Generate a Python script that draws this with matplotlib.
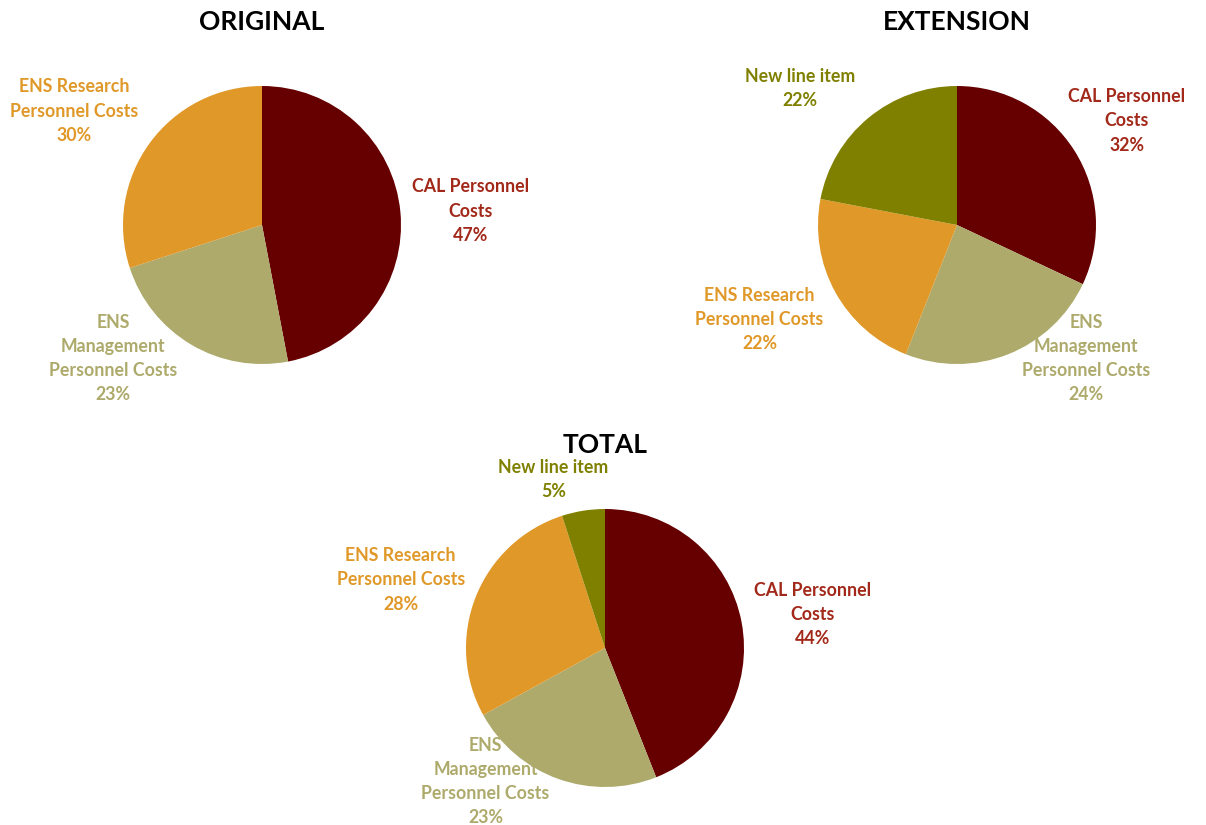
import matplotlib
matplotlib.use("Agg")
import matplotlib.pyplot as plt

plt.rcParams['font.family'] = ['Lato', 'DejaVu Sans']

# budget shares (%) per funding period, slices run clockwise from 12 o'clock
original_labels = ['CAL Personnel\nCosts', 'ENS\nManagement\nPersonnel Costs',
                   'ENS Research\nPersonnel Costs']
original_values = [47, 23, 30]

extension_labels = ['CAL Personnel\nCosts', 'ENS\nManagement\nPersonnel Costs',
                    'ENS Research\nPersonnel Costs', 'New line item']
extension_values = [32, 24, 22, 22]

total_labels = ['CAL Personnel\nCosts', 'ENS\nManagement\nPersonnel Costs',
                'ENS Research\nPersonnel Costs', 'New line item']
total_values = [44, 23, 28, 5]

slice_colors = ['#660000', '#ADAA6C', '#E09828', '#808000']
text_colors = ['#A2291A', '#ADAA6C', '#E09828', '#808000']

W, H = 1206, 825
R = 139  # pie radius in pixels

fig = plt.figure(figsize=(W / 100, H / 100), dpi=100)


def draw_pie(cx, cy, title, title_y, labels, values, label_pos):
    ax = fig.add_axes([(cx - R) / W, 1 - (cy + R) / H, 2 * R / W, 2 * R / H])
    ax.pie(values, colors=slice_colors[:len(values)], startangle=90,
           counterclock=False, radius=1.0,
           wedgeprops=dict(linewidth=0))
    ax.set_xlim(-1, 1)
    ax.set_ylim(-1, 1)
    ax.set_aspect('equal')
    ax.axis('off')
    for i, (lab, val) in enumerate(zip(labels, values)):
        x, y = label_pos[i]
        ax.text(x, y, f"{lab}\n{val}%", ha='center', va='center',
                color=text_colors[i], fontsize=12.8, fontweight='bold',
                linespacing=1.52, clip_on=False, zorder=5)
    fig.text(cx / W, 1 - title_y / H, title, ha='center', va='center',
             fontsize=19, fontweight='bold', color='black')


draw_pie(262, 225, 'ORIGINAL', 22, original_labels, original_values,
         [(1.50, 0.10), (-1.07, -0.96), (-1.35, 0.82)])
draw_pie(957, 225, 'EXTENSION', 22, extension_labels, extension_values,
         [(1.22, 0.75), (0.93, -0.96), (-1.42, -0.68), (-1.13, 0.98)])
draw_pie(605, 648, 'TOTAL', 445, total_labels, total_values,
         [(1.49, 0.24), (-0.86, -0.96), (-1.47, 0.49), (-0.37, 1.21)])

fig.savefig('out.png', dpi=100, facecolor='white')
